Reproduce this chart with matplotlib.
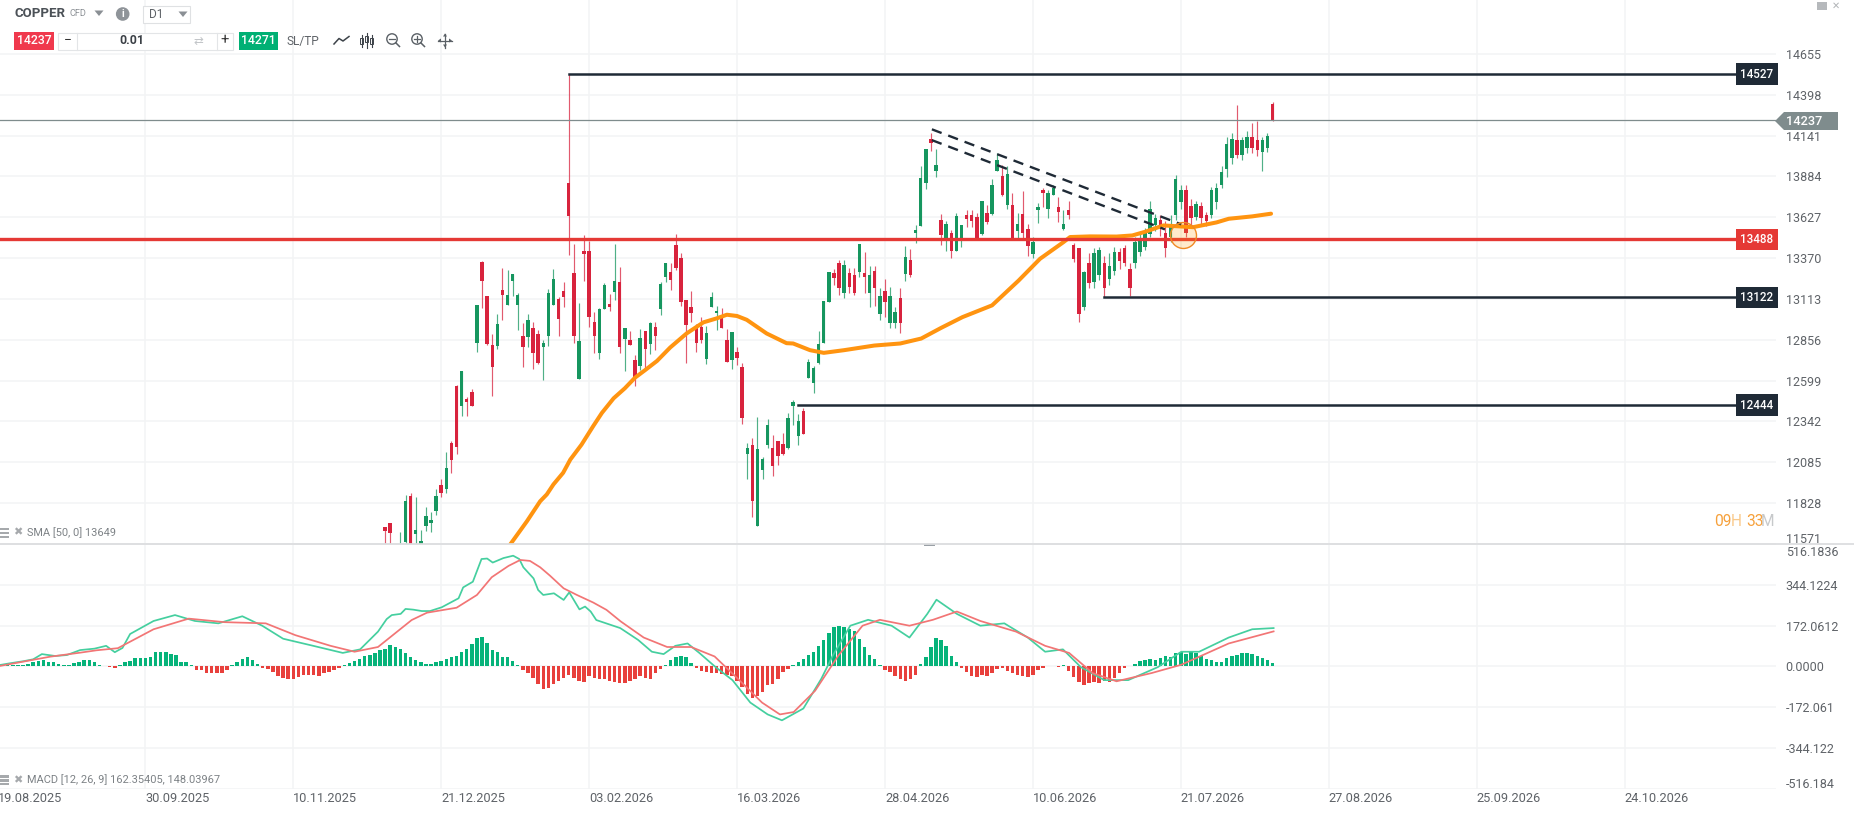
import matplotlib
matplotlib.use("Agg")
import matplotlib.pyplot as plt
from matplotlib.patches import Rectangle, Circle, Polygon
from matplotlib.transforms import ScaledTranslation

plt.rcParams["font.family"] = ["Roboto", "DejaVu Sans"]

# price pane
first_candle = 76
opens = [11675, 11700, 11480, 11520, 11583, 11875, 11633, 11540, 11682, 11703, 11776, 11940, 11917, 12207, 12565,
         12438, 12485, 12527, 12838, 13346, 13129, 12823, 12817, 13171, 13076, 13223, 13076, 12878, 12870, 12927,
         12891, 12807, 12876, 13076, 13112, 13164, 13840, 13274, 12611, 13415, 13413, 12969, 12769, 13049, 13080,
         13154, 13219, 12863, 12857, 12727, 12693, 12908, 12828, 12935, 13049, 13249, 13282, 13453, 13371, 13106,
         13059, 12943, 12937, 12737, 13063, 13021, 12996, 12853, 12731, 12781, 12685, 12139, 12192, 11681, 12035,
         12192, 12171, 12221, 12202, 12175, 12438, 12249, 12407, 12617, 12583, 12708, 12838, 13091, 13274, 13338,
         13150, 13274, 13260, 13281, 13274, 13150, 13289, 13020, 13160, 12960, 12960, 13120, 13270, 13358, 13527,
         13571, 13843, 14116, 13916, 13611, 13481, 13529, 13417, 13491, 13643, 13643, 13628, 13518, 13655, 13649,
         13918, 13885, 13702, 13706, 13540, 13649, 13550, 13396, 13670, 13801, 13681, 13769, 13691, 13554, 13670,
         13455, 13434, 13060, 13340, 13220, 13260, 13340, 13240, 13290, 13410, 13430, 13300, 13340, 13410, 13440,
         13520, 13580, 13610, 13530, 13500, 13640, 13720, 13800, 13700, 13630, 13700, 13640, 13640, 13720, 13830,
         13930, 14000, 14110, 14020, 14060, 14130, 14110, 14040, 14060, 14340]
closes = [11654, 11639, 11500, 11540, 11839, 11500, 11660, 11587, 11745, 11719, 11875, 11892, 12046, 12097, 12181,
          12657, 12466, 12438, 13074, 13223, 12828, 12687, 12954, 13137, 13135, 13268, 13135, 12807, 12981, 12771,
          12712, 12836, 13150, 13238, 12986, 13127, 13632, 12876, 12845, 13394, 12998, 12876, 13047, 13198, 13059,
          13226, 12807, 12929, 12821, 12621, 12866, 12800, 12962, 12876, 13207, 13337, 13232, 13308, 13091, 12946,
          13021, 12834, 12855, 12897, 13122, 13038, 12929, 12716, 12906, 12743, 12360, 12177, 11841, 12165, 12108,
          12316, 12060, 12122, 12137, 12365, 12464, 12344, 12264, 12714, 12678, 12828, 13101, 13280, 13245, 13180,
          13323, 13190, 13150, 13460, 13249, 13260, 13180, 13130, 13090, 13130, 13030, 12960, 13375, 13264, 13544,
          13876, 14057, 14091, 13954, 13514, 13586, 13417, 13634, 13580, 13617, 13603, 13481, 13727, 13596, 13828,
          13986, 13765, 13897, 13491, 13586, 13527, 13445, 13470, 13691, 13780, 13782, 13813, 13660, 13582, 13638,
          13365, 13020, 13281, 13210, 13400, 13420, 13180, 13320, 13410, 13350, 13340, 13180, 13470, 13490, 13530,
          13680, 13620, 13560, 13430, 13580, 13870, 13800, 13530, 13620, 13710, 13620, 13600, 13800, 13810, 13910,
          14090, 14120, 14020, 14110, 14130, 14060, 14050, 14110, 14140, 14237]
highs = [11679, 11700, 11510, 11646, 11881, 11888, 11867, 11658, 11804, 11770, 11913, 11976, 12150, 12221, 12571,
         12657, 12497, 12543, 13074, 13354, 13129, 12891, 13017, 13308, 13295, 13268, 13150, 12960, 13017, 12969,
         12920, 12851, 13175, 13301, 13122, 13217, 14527, 13459, 13087, 13512, 13476, 13032, 13053, 13213, 13143,
         13459, 13316, 12929, 12912, 12760, 12922, 12908, 12969, 12969, 13221, 13337, 13337, 13522, 13402, 13106,
         13164, 12954, 12996, 12943, 13156, 13070, 13055, 12922, 12906, 12811, 12710, 12207, 12238, 12371, 12115,
         12358, 12259, 12221, 12270, 12396, 12476, 12386, 12423, 12733, 12691, 12908, 13101, 13281, 13302, 13359,
         13359, 13308, 13308, 13460, 13407, 13317, 13317, 13180, 13240, 13190, 13060, 13180, 13443, 13428, 13575,
         13948, 14057, 14154, 14059, 13649, 13603, 13544, 13655, 13580, 13670, 13670, 13655, 13727, 13706, 13866,
         14028, 13954, 13948, 13782, 13655, 13790, 13586, 13502, 13718, 13813, 13796, 13828, 13754, 13670, 13727,
         13464, 13434, 13291, 13400, 13430, 13440, 13380, 13400, 13440, 13430, 13450, 13340, 13500, 13520, 13560,
         13730, 13650, 13640, 13600, 13640, 13890, 13830, 13830, 13740, 13730, 13720, 13660, 13820, 13840, 13950,
         14130, 14160, 14330, 14130, 14170, 14220, 14230, 14130, 14160, 14350]
lows = [11500, 11500, 11450, 11480, 11540, 11480, 11540, 11520, 11650, 11646, 11755, 11867, 11892, 12018, 12139,
        12375, 12375, 12438, 12781, 13055, 12821, 12501, 12796, 12979, 13076, 13131, 12916, 12687, 12811, 12674,
        12701, 12605, 12817, 13076, 12882, 13061, 13386, 12832, 12611, 13223, 12937, 12771, 12737, 13049, 13034,
        13106, 12771, 12659, 12821, 12565, 12666, 12666, 12764, 12792, 13013, 13217, 13169, 13295, 13070, 12710,
        12965, 12777, 12838, 12701, 13063, 12916, 12929, 12716, 12674, 12697, 12327, 11978, 11738, 11681, 11978,
        12175, 12000, 12070, 12129, 12165, 12322, 12192, 12264, 12617, 12522, 12701, 12832, 13091, 13200, 13140,
        13120, 13150, 13140, 13249, 13150, 13060, 13070, 12980, 13000, 12930, 12930, 12900, 13228, 13249, 13466,
        13571, 13807, 14043, 13881, 13449, 13417, 13369, 13417, 13438, 13565, 13565, 13481, 13512, 13586, 13638,
        13918, 13758, 13681, 13481, 13481, 13497, 13382, 13369, 13590, 13691, 13624, 13769, 13596, 13544, 13617,
        13348, 12968, 13042, 13180, 13180, 13230, 13122, 13200, 13260, 13300, 13320, 13132, 13310, 13380, 13420,
        13500, 13540, 13510, 13375, 13470, 13610, 13680, 13500, 13580, 13610, 13570, 13570, 13620, 13680, 13810,
        13880, 13960, 14000, 13990, 14030, 14030, 14010, 13920, 14040, 14230]

sma_days = [100.5, 103.8, 106.4, 107.7, 109, 110.9, 112.3, 114.5, 116.8, 118.5, 120.8, 123, 125, 127, 129.3, 131.9,
            135.1, 138.4, 141, 143, 145, 146.9, 150.8, 154.7, 156, 159.3, 162, 166, 171.9, 177, 181.1, 185, 189.2,
            195, 200.2, 204.4, 209, 210.3, 214.2, 219.4, 222.5, 225, 228.6, 234.4, 239, 241.4, 246, 249.7]
sma_vals = [11566, 11713, 11839, 11882, 11945, 12018, 12101, 12195, 12312, 12395, 12487, 12550, 12617, 12665, 12722,
            12807, 12895, 12965, 12990, 13013, 13005, 12981, 12895, 12834, 12832, 12790, 12773, 12790, 12819, 12832,
            12863, 12930, 12998, 13072, 13228, 13365, 13470, 13502, 13506, 13505, 13512, 13535, 13575, 13564, 13594,
            13617, 13632, 13649]

# horizontal levels: value, first candle
level_vals = [14527, 13122, 12444]
level_days = [112, 217, 157]
support_val = 13488
last_price = 14237

# downward channel: day pairs and prices
upper_dash_days = [183.2, 232.1]
upper_dash_vals = [14180, 13582]
lower_dash_days = [183.2, 228.9]
lower_dash_vals = [14112, 13550]
circle_day = 232.5
circle_val = 13512

price_ticks = [14655, 14398, 14141, 13884, 13627, 13370, 13113, 12856, 12599, 12342, 12085, 11828, 11571]

# macd pane
hist_vals = [4, 6, 8, 8, 7, 8, 10, 18, 23, 28, 20, 17, 11, 7, 7, 14, 17, 27, 27, 18, 4, 0, -3, -8, 7, 17, 21, 35, 35,
             35, 39, 59, 59, 59, 54, 49, 17, 17, 4, -14, -17, -28, -28, -28, -28, -14, 4, 17, 31, 39, 27, 11,
             -5, -12, -25, -40, -48, -55, -52, -45, -38, -35, -38, -40, -30, -22, -15, -6, 5, 14, 22, 30, 42, 48, 58,
             70, 75, 90, 82, 72, 55, 40, 28, 20, 12, 10, 18, 22, 30, 38, 42, 60, 72, 95, 118, 125, 100, 70, 60, 40,
             38, 22, 5, -15, -30, -48, -75, -95, -90, -75, -60, -50, -35, -50, -60, -65, -40, -48, -52, -55, -62, -68,
             -72, -72, -62, -55, -40, -50, -55, -30, -10, 8, 25, 40, 45, 38, 15, -8, -20, -25, -28, -30, -32, -38, -42,
             -60, -85, -118, -135, -125, -110, -80, -75, -55, -25, -10, 5, 18, 30, 48, 62, 85, 110, 140, 165, 170, 165,
             160, 150, 115, 80, 50, 30, 5, -15, -25, -40, -55, -60, -55, -35, 10, 40, 80, 120, 110, 85, 45, 18, -8, -25,
             -40, -45, -38, -42, -30, -10, -5, -20, -30, -38, -42, -45, -35, -15, -8, 3, 3, -4, 4, -20, -45, -65, -78,
             -70, -65, -72, -60, -68, -50, -30, -8, 3, 12, 22, 28, 30, 26, 35, 42, 40, 55, 60, 52, 62, 55, 45, 32, 25,
             20, 18, 35, 42, 50, 55, 55, 52, 45, 35, 25, 15]

macd_days = [0.5, 2.4, 5.1, 7, 8.7, 11.3, 13.6, 16.2, 19, 21.3, 23, 24.5, 26, 30.6, 34.8, 38.7, 43.3, 48, 51.9, 56,
             61.9, 67.7, 71.1, 74.6, 76.3, 77.3, 79.05, 80, 81.5, 83.2, 84.8, 87.1, 90.4, 91.3, 93.2, 94.9, 96, 97.1,
             99.2, 101.1, 102.3, 103.1, 105.1, 106, 107, 109.1, 111, 112.1, 114.1, 115.2, 116.3, 117.4, 122.1, 125.6,
             128.3, 130.6, 132.9, 135.3, 137.6, 140.8, 144.1, 147.6, 151, 153.8, 158, 161.5, 163.8, 167.2, 170.7,
             175.3, 178.8, 182.3, 184.1, 188.1, 192.7, 197.4, 202, 205.4, 208.9, 212.4, 217, 221.7, 227.5, 232.1,
             235.6, 241.4, 246, 250.2]
macd_vals = [6, 13, 22, 30, 52, 44, 48, 69, 75, 87, 60, 78, 137, 192, 217, 192, 182, 212, 172, 117, 87, 57, 72, 147,
             200, 217, 222, 243, 240, 234, 234, 250, 288, 334, 358, 454, 456, 439, 458, 468, 454, 419, 372, 323, 302,
             309, 281, 313, 241, 253, 232, 196, 162, 112, 62, 52, 87, 97, 57, -3, -58, -153, -203, -228, -178, -53, 47,
             172, 197, 172, 122, 222, 282, 222, 172, 182, 122, 62, 72, -3, -58, -58, -3, 62, 62, 122, 157, 162]
signal_days = [0.5, 10.3, 16.2, 19.4, 23.6, 30.6, 37.5, 44.5, 52.6, 58.4, 65.3, 70, 74.6, 81.2, 84.2, 90, 94, 96.9,
               100.2, 102.5, 104.4, 106.4, 108.3, 111, 113.6, 116.8, 119.4, 122.2, 126.7, 131.3, 136, 140.6, 145.2,
               149.9, 153.4, 156.1, 160.3, 164.9, 169.6, 173, 178.8, 183.4, 188.1, 192.7, 199.7, 205.4, 210.1, 214.7,
               219.4, 226.3, 232.1, 241.4, 250.2]
signal_vals = [2, 41, 58, 68, 77, 157, 202, 187, 182, 132, 87, 62, 82, 196, 227, 248, 302, 377, 425, 450, 446, 419,
               384, 330, 302, 270, 239, 190, 122, 82, 82, 42, -53, -153, -203, -193, -103, 47, 172, 197, 172, 197, 232,
               192, 147, 87, 57, -28, -63, -28, 7, 97, 148]

macd_ticks = [516.1836, 344.1224, 172.0612, 0.0, -172.061, -344.122, -516.184]
macd_tick_labels = ["516.1836", "344.1224", "172.0612", "0.0000", "-172.061", "-344.122", "-516.184"]

date_days = [0, 29, 58, 87, 116, 145, 174, 203, 232, 261, 290, 319]
date_labels = ["19.08.2025", "30.09.2025", "10.11.2025", "21.12.2025", "03.02.2026", "16.03.2026",
               "28.04.2026", "10.06.2026", "21.07.2026", "27.08.2026", "25.09.2026", "24.10.2026"]

GREEN = "#16965f"
RED = "#d8233d"
GREY = "#5f6368"
DARK = "#1f2a36"
W, H = 1854, 815

fig = plt.figure(figsize=(W / 100, H / 100), dpi=100, facecolor="white")
ax = fig.add_axes([-2.5 / W, (H - 544.3) / H, 1778.5 / W, 544.3 / H])
ax_m = fig.add_axes([-2.5 / W, (H - 788.5) / H, 1778.5 / W, 244.2 / H])

for a in (ax, ax_m):
    a.set_xlim(0, 348.7)
    a.set_xticks(date_days)
    a.grid(True, color="#f3f4f5", lw=1.1)
    a.set_axisbelow(True)
    a.yaxis.tick_right()
    a.tick_params(length=0, labelsize=9, labelcolor=GREY, pad=7)
    for s in a.spines.values():
        s.set_visible(False)


def nudge(label, px):
    # edge labels sit a few pixels inside the pane
    label.set_transform(label.get_transform() + ScaledTranslation(0, px / 100, fig.dpi_scale_trans))


ax.set_ylim(11568, 14994)
ax.set_yticks(price_ticks)
ax.set_yticklabels([str(t) for t in price_ticks])
nudge(ax.get_yticklabels()[-1], 6)
ax.tick_params(axis="x", labelbottom=False)

# candles
days = [first_candle + i for i in range(len(opens))]
for d, o, h, l, c in zip(days, opens, highs, lows, closes):
    col = GREEN if c >= o else RED
    ax.vlines(d, l, h, color=col, lw=0.85, alpha=0.75, zorder=3)
    ax.bar(d, abs(c - o), bottom=min(o, c), width=0.68, color=col, lw=0, zorder=4)

ax.plot(sma_days, sma_vals, color="#ff9410", lw=2.9, zorder=5, solid_capstyle="round")

ax.axhline(support_val, color="#e53935", lw=2.4, zorder=6)
ax.axhline(last_price, color="#7f8c8d", lw=0.9, zorder=6)
for val, day in zip(level_vals, level_days):
    ax.plot([day, 348.7], [val, val], color=DARK, lw=1.8, zorder=6)
ax.plot(upper_dash_days, upper_dash_vals, color=DARK, lw=1.7, ls=(0, (4.4, 3)), zorder=6)
ax.plot(lower_dash_days, lower_dash_vals, color=DARK, lw=1.7, ls=(0, (4.4, 3)), zorder=6)
ax.scatter([circle_day], [circle_val], s=350, facecolor="#ff980033", edgecolor="#f08a24", lw=1, zorder=7)

# level tags on the right edge
for val in level_vals + [support_val]:
    col = "#e53935" if val == support_val else DARK
    ax.text(0.9985, val, str(val), transform=ax.get_yaxis_transform(), ha="right", va="center", color="white",
            fontsize=8.4, fontweight="medium", zorder=9,
            bbox=dict(boxstyle="square,pad=0.36", fc=col, ec="none"))

ax_m.set_ylim(-516.184, 516.1836)
ax_m.set_yticks(macd_ticks)
ax_m.set_yticklabels(macd_tick_labels)
nudge(ax_m.get_yticklabels()[0], -7)
nudge(ax_m.get_yticklabels()[-1], 5.5)
ax_m.set_xticklabels(date_labels, ha="left", fontsize=9.2, color=GREY)
ax_m.tick_params(axis="x", pad=2.2)

hist_x = list(range(len(hist_vals)))
hist_cols = ["#06b37a" if v >= 0 else "#e8403c" for v in hist_vals]
ax_m.bar(hist_x, hist_vals, width=0.68, color=hist_cols, lw=0, zorder=3)
ax_m.plot(macd_days, macd_vals, color="#45cf9f", lw=1.25, zorder=4)
ax_m.plot(signal_days, signal_vals, color="#f27575", lw=1.25, zorder=5)

# toolbar and captions, placed in screen pixels
ui = fig.add_axes([0, 0, 1, 1], zorder=10)
ui.set_xlim(0, W)
ui.set_ylim(H, 0)
ui.axis("off")
ui.patch.set_alpha(0)


def box(x, y, w, h, fc, ec="none", lw=0.8):
    ui.add_patch(Rectangle((x, y), w, h, fc=fc, ec=ec, lw=lw))


def tri(x, y, size=4.5):
    ui.add_patch(Polygon([(x - size, y - 2.5), (x + size, y - 2.5), (x, y + 3)], fc="#8a8f94", ec="none"))


ui.plot([0, W], [544.3, 544.3], color="#dcdddf", lw=1.3)
box(924, 543.5, 11, 2.5, "#9aa0a6")

ui.text(14.5, 13.5, "COPPER", fontsize=9.5, fontweight="bold", color="#4b5157", va="center")
ui.text(69.5, 14, "CFD", fontsize=6.6, color="#8a8f94", va="center")
tri(99, 13)
ui.add_patch(Circle((122.7, 14), 6.8, fc="#8f9499", ec="none"))
ui.text(122.7, 14, "i", fontsize=7.5, fontweight="bold", color="white", ha="center", va="center")
box(143.5, 5.5, 47, 17, "white", "#dfe1e3")
ui.text(149, 14.3, "D1", fontsize=8.6, color=GREY, va="center")
tri(183, 14)

box(14, 32, 40, 18, "#f0394d")
ui.text(34, 41, "14237", fontsize=8.8, fontweight="medium", color="white", ha="center", va="center")
box(58.5, 32.5, 175, 17, "white", "#e3e5e7")
ui.plot([77, 77], [32.5, 49.5], color="#e3e5e7", lw=0.8)
ui.plot([217, 217], [32.5, 49.5], color="#e3e5e7", lw=0.8)
ui.text(67.5, 40.5, "−", fontsize=10, color="#333333", ha="center", va="center")
ui.text(132, 41, "0.01", fontsize=8.8, fontweight="bold", color="#3b4046", ha="center", va="center")
ui.text(198, 41, "⇄", fontsize=8.5, color="#c3c6c9", ha="center", va="center", family="DejaVu Sans")
ui.text(225, 40.5, "+", fontsize=10.5, color="#333333", ha="center", va="center")
box(239, 32, 39, 18, "#00b074")
ui.text(258.5, 41, "14271", fontsize=8.8, fontweight="medium", color="white", ha="center", va="center")
ui.text(303, 41, "SL/TP", fontsize=8.6, color=GREY, ha="center", va="center")

# chart type and zoom icons
ui.plot([334, 339, 343, 349], [44, 38.5, 41, 36.5], color="#3d4349", lw=1.1)
for ix, top, bot in [(362, 35, 47), (367, 33, 48), (372, 35, 47)]:
    ui.plot([ix, ix], [top, bot], color="#3d4349", lw=0.8)
    box(ix - 1.5, top + 3, 3, 6, "white", "#3d4349", 0.7)
for ix in (392, 417):
    ui.add_patch(Circle((ix, 39), 5.2, fc="none", ec="#5a6066", lw=1))
    ui.plot([ix + 3.8, ix + 7.5], [42.8, 46.5], color="#5a6066", lw=1.1)
    ui.plot([ix - 2.6, ix + 2.6], [39, 39], color="#5a6066", lw=0.9)
ui.plot([417, 417], [36.4, 41.6], color="#5a6066", lw=0.9)
ui.plot([438, 452], [40.5, 40.5], color="#5a6066", lw=0.9)
ui.plot([445, 445], [33.5, 47.5], color="#5a6066", lw=0.9)
for ax_, ay, dx_, dy_ in [(438, 40.5, 1, 0), (452, 40.5, -1, 0), (445, 33.5, 0, 1), (445, 47.5, 0, -1)]:
    ui.add_patch(Polygon([(ax_, ay), (ax_ + 3 * dx_ + 2 * dy_, ay + 3 * dy_ + 2 * dx_),
                          (ax_ + 3 * dx_ - 2 * dy_, ay + 3 * dy_ - 2 * dx_)], fc="#5a6066", ec="none"))

# window buttons
box(1817, 2, 10, 8, "#b6b9bc")
ui.text(1836, 6, "✕", fontsize=7, color="#b0b3b6", ha="center", va="center", family="DejaVu Sans")

# last price tag
ui.add_patch(Polygon([(1775, 121), (1784, 112), (1838, 112), (1838, 130), (1784, 130)], fc="#7f8c8d", ec="none"))
ui.text(1786, 121.5, "14237", fontsize=9.2, fontweight="medium", color="white", va="center")

# indicator captions
for cap_y, cap in [(532.5, "SMA [50, 0] 13649"), (780, "MACD [12, 26, 9] 162.35405, 148.03967")]:
    box(0, cap_y - 5, 9, 2.5, "#a6a9ac")
    box(0, cap_y - 1, 9, 2.5, "#a6a9ac")
    box(0, cap_y + 3, 9, 2, "#a6a9ac")
    ui.text(17.5, cap_y, "✖", fontsize=8, color="#a6a9ac", ha="center", va="center", family="DejaVu Sans")
    ui.text(27, cap_y, cap, fontsize=7.9, color="#7d8286", va="center")

# countdown
for part, col, px in [("09", "#f6a13c", 1714), ("H", "#f9c98a", 1731), ("33", "#f6a13c", 1746), ("M", "#c7c9cb", 1761)]:
    ui.text(px, 522, part, fontsize=11.2, color=col, va="center")

fig.savefig("out.png", dpi=100)
